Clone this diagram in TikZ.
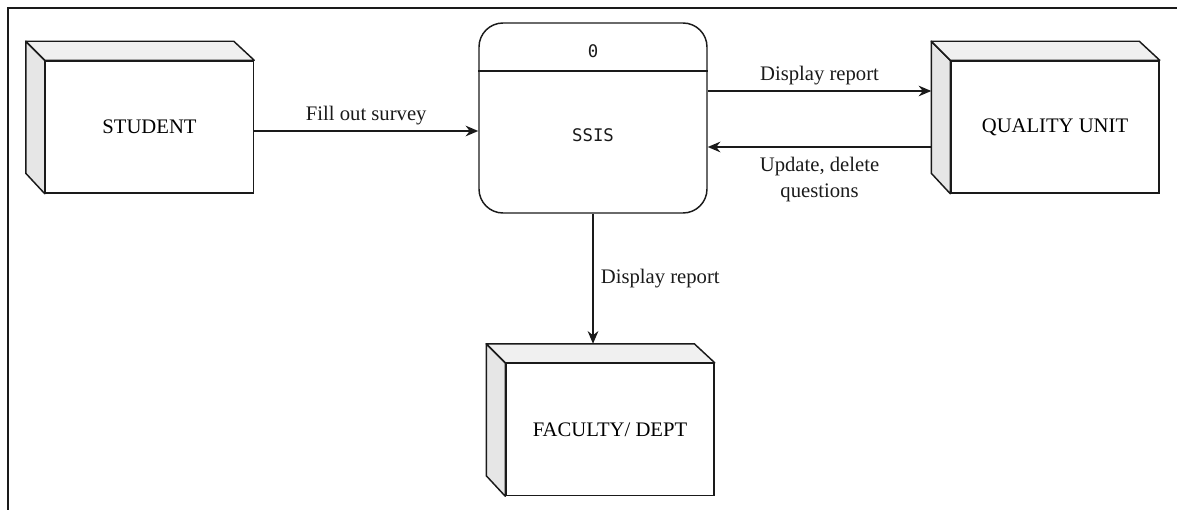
\documentclass[tikz,border=0pt]{standalone}
\usepackage{fontspec}
\setmainfont{Liberation Serif}
\newfontfamily\procfont{DejaVu Sans Mono}
\usepackage{tikz}
\usetikzlibrary{arrows.meta, positioning}

\definecolor{sidegray}{HTML}{E6E6E6}
\definecolor{topgray}{HTML}{F0F0F0}
\definecolor{inkgray}{HTML}{1A1A1A}

\begin{document}
\begin{tikzpicture}[
        x=0.75pt, y=-0.75pt,
        entity/.style={rectangle, draw=inkgray, line width=1.1pt, fill=white,
            minimum width=156pt, minimum height=99pt, font=\fontsize{15.5}{18}\selectfont},
        process/.style={rectangle, draw=inkgray, line width=1.1pt, rounded corners=18pt,
            minimum width=171pt, minimum height=142.5pt},
        flow/.style={-{Stealth[length=9.5pt, width=8pt]}, draw=inkgray, line width=1.1pt},
        lbl/.style={font=\fontsize{15.5}{19}\selectfont, text=inkgray}
    ]
        \useasboundingbox (0,0) rectangle (1177,510);
        \draw[line width=0.8pt, inkgray] (8,510) -- (8,8) -- (1177,8);

        % external entities
        \node[entity] (student) at (149.5,127) {STUDENT};
        \node[entity] (quality) at (1055,127) {QUALITY UNIT};
        \node[entity] (faculty) at (610,429.5) {FACULTY/ DEPT};
        \foreach \n in {student, quality, faculty} {
            \filldraw[fill=sidegray, draw=inkgray, line width=1.1pt, line join=round]
                (\n.north west) -- ++(-19,-19) -- ++(0,132) -- (\n.south west) -- cycle;
            \filldraw[fill=topgray, draw=inkgray, line width=1.1pt, line join=round]
                (\n.north west) -- ++(-19,-19) -- ++(208,0) -- (\n.north east) -- cycle;
        }
        \coordinate (qside) at ([xshift=-14.25pt]quality.west);
        \coordinate (ftop) at ([yshift=14.25pt]faculty.north);

        % process
        \node[process] (ssis) at (593,118) {};
        \draw[draw=inkgray, line width=1.1pt] (ssis.west |- 0,71) -- (ssis.east |- 0,71);
        \node[font=\procfont\fontsize{13}{15}\selectfont, text=inkgray] (num) at (593,51) {0};
        \node[font=\procfont\fontsize{13}{15}\selectfont, text=inkgray] (name) at (593,135) {SSIS};

        % flows
        \draw[flow] ([yshift=-3pt]student.east) -- ([yshift=-3pt]student.east -| ssis.west)
            node[lbl, midway, above, yshift=1pt] {Fill out survey};
        \draw[flow] ([yshift=20.25pt]ssis.east) -- ([yshift=20.25pt]ssis.east -| qside)
            node[lbl, midway, above, yshift=1pt] {Display report};
        \draw[flow] ([yshift=-21.75pt]ssis.east -| qside) -- ([yshift=-21.75pt]ssis.east)
            node[lbl, midway, below, align=center, yshift=-4pt] {Update, delete\\questions};
        \draw[flow] (ssis.south) -- (ssis.south |- ftop)
            node[lbl, midway, right, xshift=2pt] {Display report};
    \end{tikzpicture}
\end{document}
